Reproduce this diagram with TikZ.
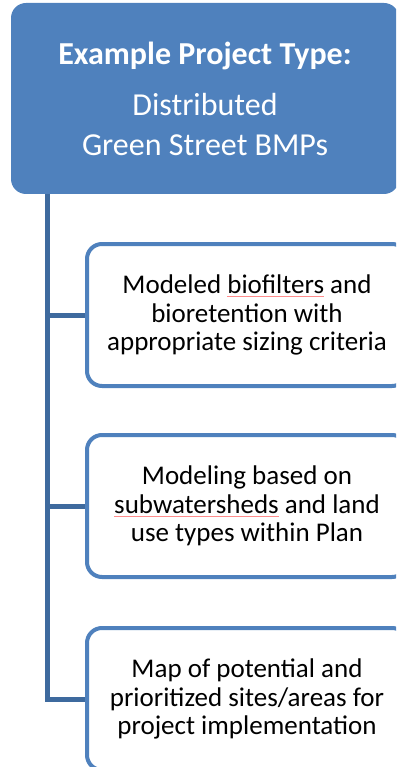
\documentclass[tikz,border=0pt]{standalone}
\usepackage{fontspec}
\setmainfont{Carlito}
\newsavebox\spellbox
\newcommand\redline[1]{\sbox\spellbox{#1}\rlap{\textcolor{red!45}{\rule[-3.5pt]{\wd\spellbox}{0.6pt}}}\usebox\spellbox}
\definecolor{boxblue}{HTML}{4F81BD}
\definecolor{trunkblue}{HTML}{3E6A9E}
\begin{document}
\begin{tikzpicture}[x=1pt,y=-1pt,
  topbox/.style={rectangle, rounded corners=15pt, fill=boxblue, draw=none,
    minimum width=388pt, minimum height=191pt, inner sep=0pt, text=white, align=center,
    font=\fontsize{32}{40}\selectfont},
  childbox/.style={rectangle, rounded corners=15pt, draw=boxblue, line width=4pt, fill=white,
    minimum width=320pt, inner sep=0pt, align=center, font=\fontsize{27}{28.5}\selectfont},
  conn/.style={draw=trunkblue, line width=5pt}]
\useasboundingbox (0,0) rectangle (396,767);
\clip (0,0) rectangle (396,767);
\node[topbox] (top) at (205,98.5) {\textbf{Example Project Type:}\\[11pt]Distributed\\Green Street BMPs};
\node[childbox, minimum height=142pt] (c1) at (247,315) {Modeled \redline{biofilters} and\\bioretention with\\appropriate sizing criteria};
\node[childbox, minimum height=142pt] (c2) at (247,506) {Modeling based on\\\redline{subwatersheds} and land\\use types within Plan};
\node[childbox, minimum height=142pt] (c3) at (247,699) {Map of potential and\\prioritized sites/areas for\\project implementation};
\coordinate (trunktop) at (47.5,194);
\draw[conn] (trunktop) |- (c3.west);
\draw[conn] (trunktop |- c1.west) -- (c1.west);
\draw[conn] (trunktop |- c2.west) -- (c2.west);
\end{tikzpicture}
\end{document}
